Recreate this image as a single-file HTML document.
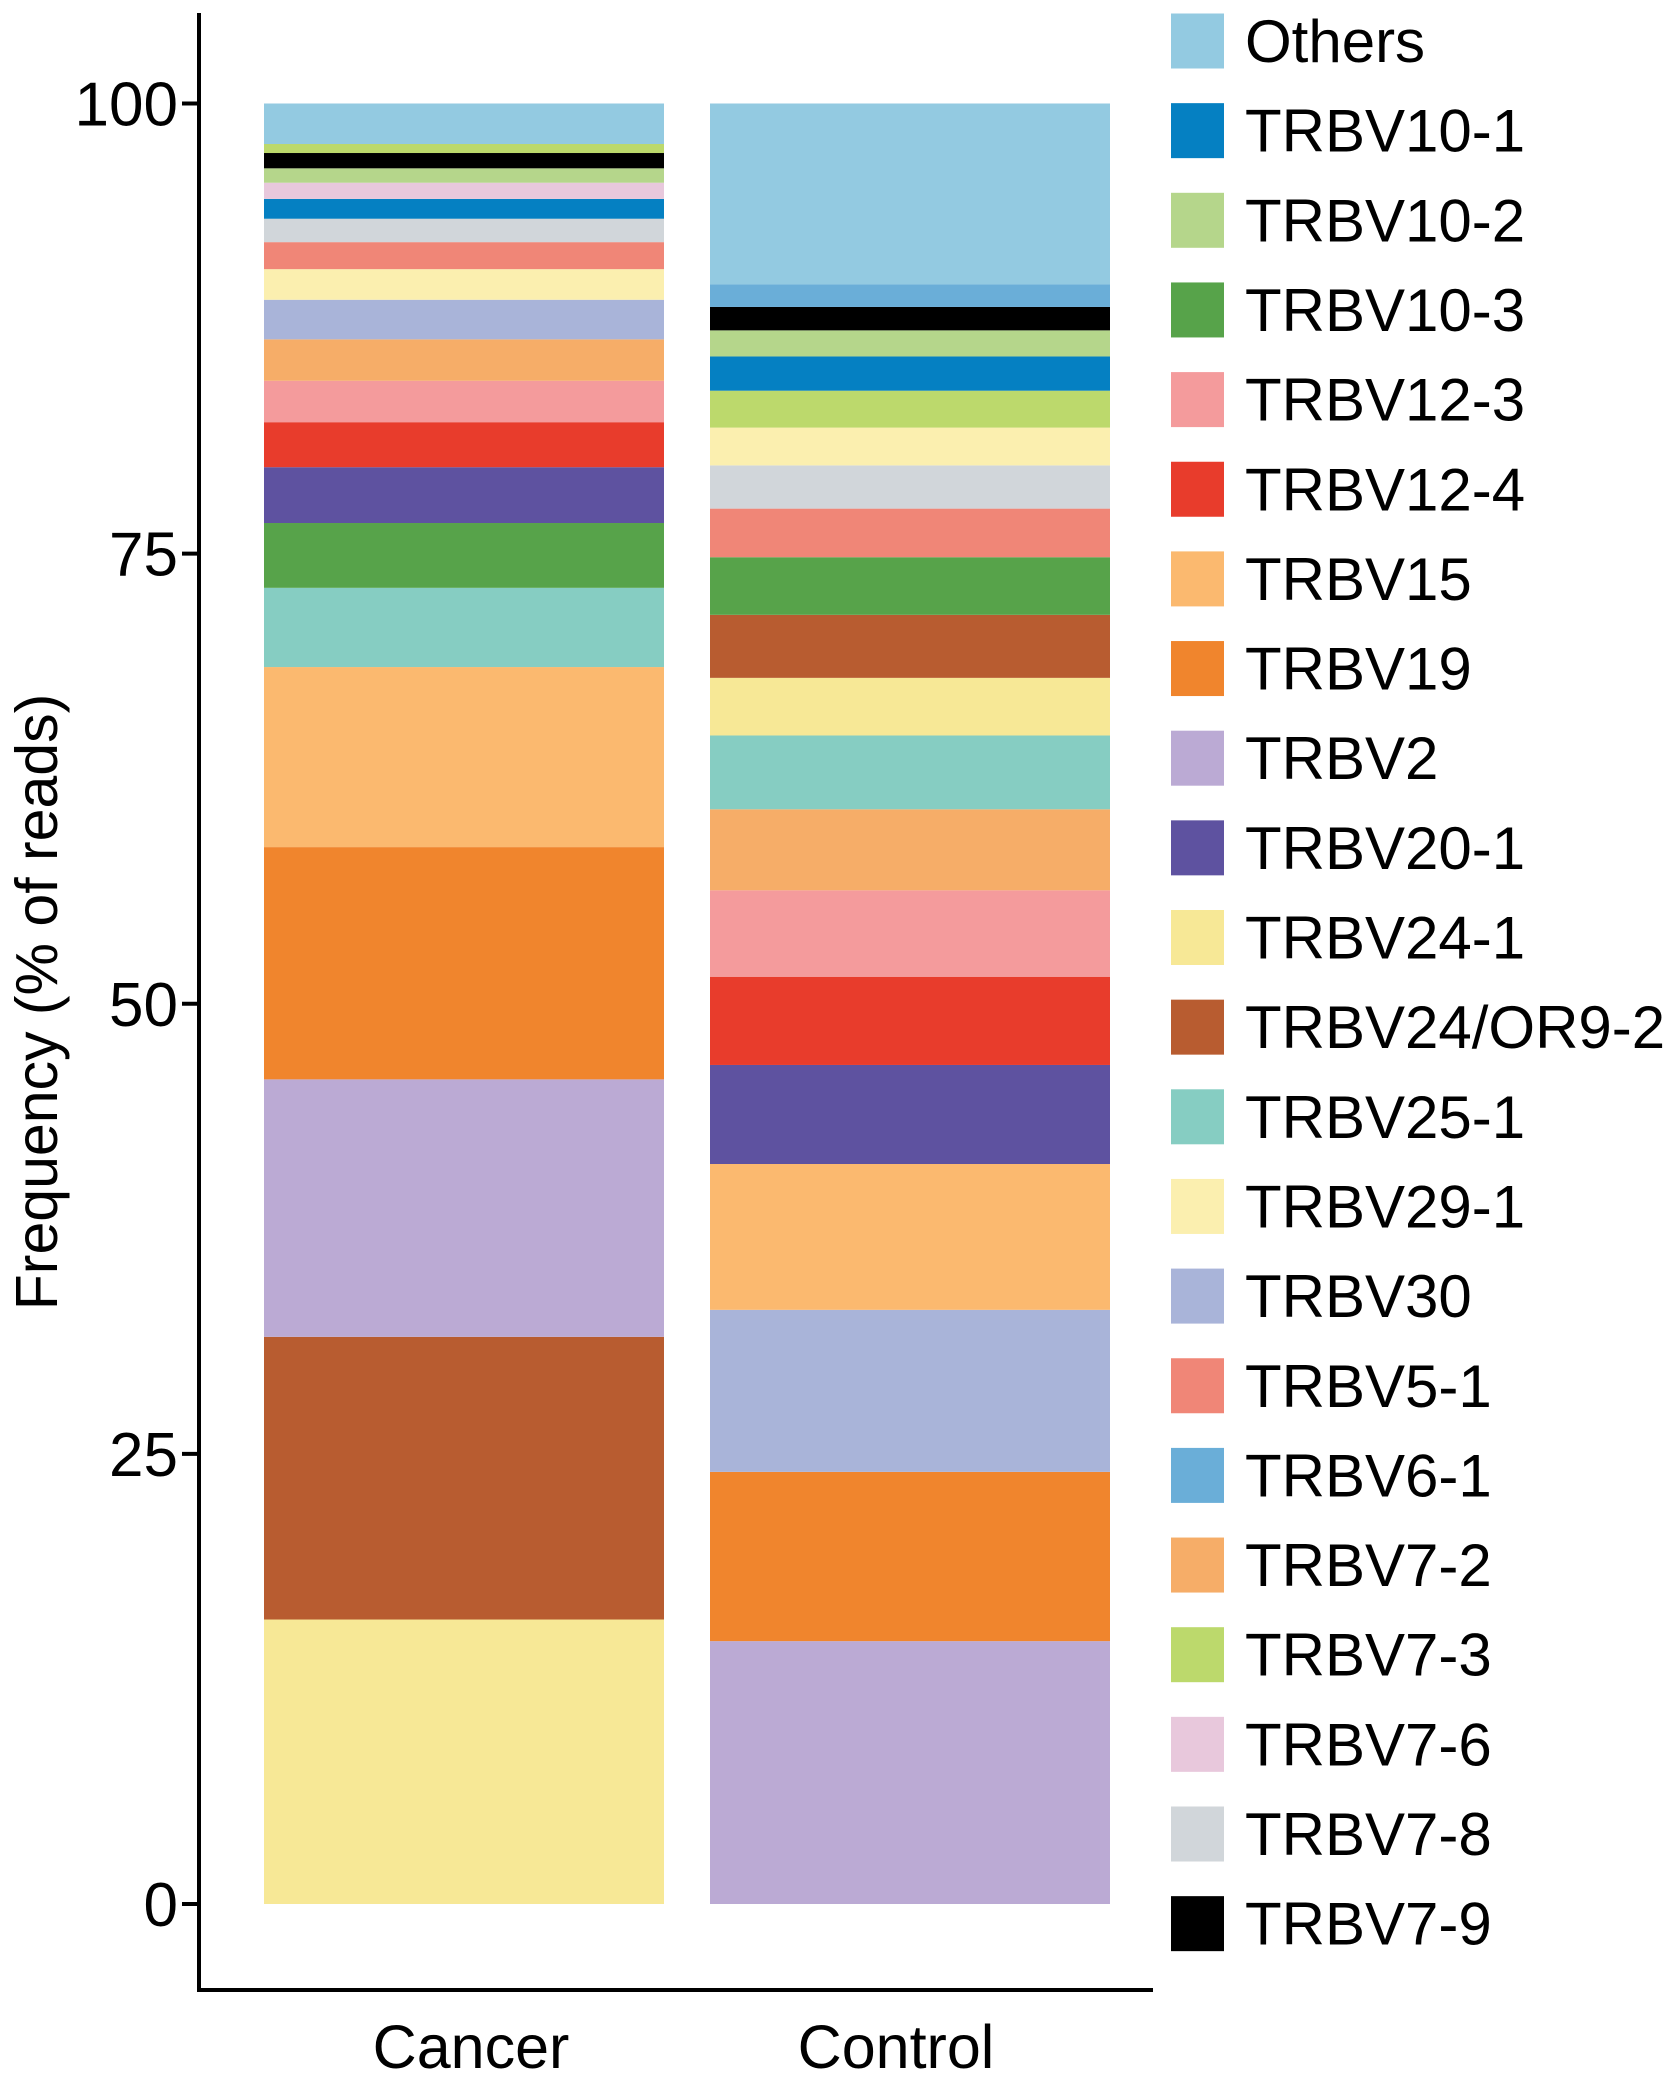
<!DOCTYPE html>
<html><head><meta charset="utf-8"><style>
html,body{margin:0;padding:0;background:#fff;}
svg{display:block;}
text{font-family:"Liberation Sans",Arial,sans-serif;fill:#000;}
</style></head><body>
<svg id="chart" width="1677" height="2083" viewBox="0 0 1677 2083" xmlns="http://www.w3.org/2000/svg">
<g id="bars"></g>
<g id="axes"></g>
<g id="legend"></g>
<text transform="translate(57,1002) rotate(-90)" text-anchor="middle" font-size="59">Frequency (% of reads)</text>
</svg>
<script>
const legendNames = ["Others","TRBV10-1","TRBV10-2","TRBV10-3","TRBV12-3","TRBV12-4","TRBV15","TRBV19","TRBV2","TRBV20-1","TRBV24-1","TRBV24/OR9-2","TRBV25-1","TRBV29-1","TRBV30","TRBV5-1","TRBV6-1","TRBV7-2","TRBV7-3","TRBV7-6","TRBV7-8","TRBV7-9"];
const legendColors = ["#93cae1","#0580c2","#b5d68b","#57a34a","#f49b9c","#e83c2c","#fbb96f","#f0852d","#bbaad4","#5e52a0","#f7e896","#b85c30","#86cdc2","#fbefaf","#a9b4d9","#f08677","#6aaed8","#f6ad68","#bcd96c","#e8c8dc","#d1d6da","#000000"];
const categories = ["Cancer","Control"];
// stacks listed bottom-to-top
const cancerNames = ["TRBV24-1","TRBV24/OR9-2","TRBV2","TRBV19","TRBV15","TRBV25-1","TRBV10-3","TRBV20-1","TRBV12-4","TRBV12-3","TRBV7-2","TRBV30","TRBV29-1","TRBV5-1","TRBV7-8","TRBV10-1","TRBV7-6","TRBV10-2","TRBV7-9","TRBV7-3","Others"];
const cancerValues = [15.8,15.7,14.3,12.9,10.0,4.4,3.6,3.1,2.5,2.3,2.3,2.2,1.7,1.5,1.3,1.1,0.9,0.8,0.85,0.5,2.25];
const controlNames = ["TRBV2","TRBV19","TRBV30","TRBV15","TRBV20-1","TRBV12-4","TRBV12-3","TRBV7-2","TRBV25-1","TRBV24-1","TRBV24/OR9-2","TRBV10-3","TRBV5-1","TRBV7-8","TRBV29-1","TRBV7-3","TRBV10-1","TRBV10-2","TRBV7-9","TRBV6-1","Others"];
const controlValues = [14.6,9.4,9.0,8.1,5.5,4.9,4.8,4.5,4.1,3.2,3.5,3.2,2.7,2.4,2.1,2.05,1.9,1.45,1.3,1.25,10.05];
const yTicks = [0,25,50,75,100];

const NS="http://www.w3.org/2000/svg";
function mk(tag, attrs, parent){const e=document.createElementNS(NS,tag);for(const k in attrs)e.setAttribute(k,attrs[k]);parent.appendChild(e);return e;}
const y0=1904, y100=103.5;
function yScale(v){return y0-(y0-y100)*v/100;}
const barX=[264,710], barW=400;
const labelShift=[7,-14];
function colorOf(n){return legendColors[legendNames.indexOf(n)];}
const barsG=document.getElementById('bars');
[[cancerNames,cancerValues],[controlNames,controlValues]].forEach((s,bi)=>{
  let cum=0;
  s[0].forEach((n,i)=>{
    const v=s[1][i];
    const top=yScale(cum+v), bot=yScale(cum);
    const r=mk('rect',{x:barX[bi],y:top,width:barW,height:bot-top,fill:colorOf(n)},barsG);
    
    
    cum+=v;
  });
});
const ax=document.getElementById('axes');
const yl=mk('line',{x1:199,y1:13,x2:199,y2:1992,stroke:'#000','stroke-width':4},ax);


const xl=mk('line',{x1:197,y1:1990,x2:1153,y2:1990,stroke:'#000','stroke-width':4},ax);


yTicks.forEach(t=>{
  const y=yScale(t);
  const tk=mk('line',{x1:182,y1:y,x2:199,y2:y,stroke:'#000','stroke-width':4},ax);
  
  
  const tx=mk('text',{x:178,y:y+22,'text-anchor':'end','font-size':62},ax);
  tx.textContent=t;
  
  
});
categories.forEach((c,i)=>{
  const tx=mk('text',{x:barX[i]+barW/2+labelShift[i],y:2068,'text-anchor':'middle','font-size':61},ax);
  tx.textContent=c;
  
  
});
const lg=document.getElementById('legend');
legendNames.forEach((n,i)=>{
  const cy=41+i*89.65;
  const g=mk('g',{},lg);
  
  
  mk('rect',{x:1171,y:cy-27.5,width:53,height:55,fill:legendColors[i]},g);
  const t=mk('text',{x:1245,y:cy+21,'font-size':60},g);
  t.textContent=n;
});
</script>
</body></html>
